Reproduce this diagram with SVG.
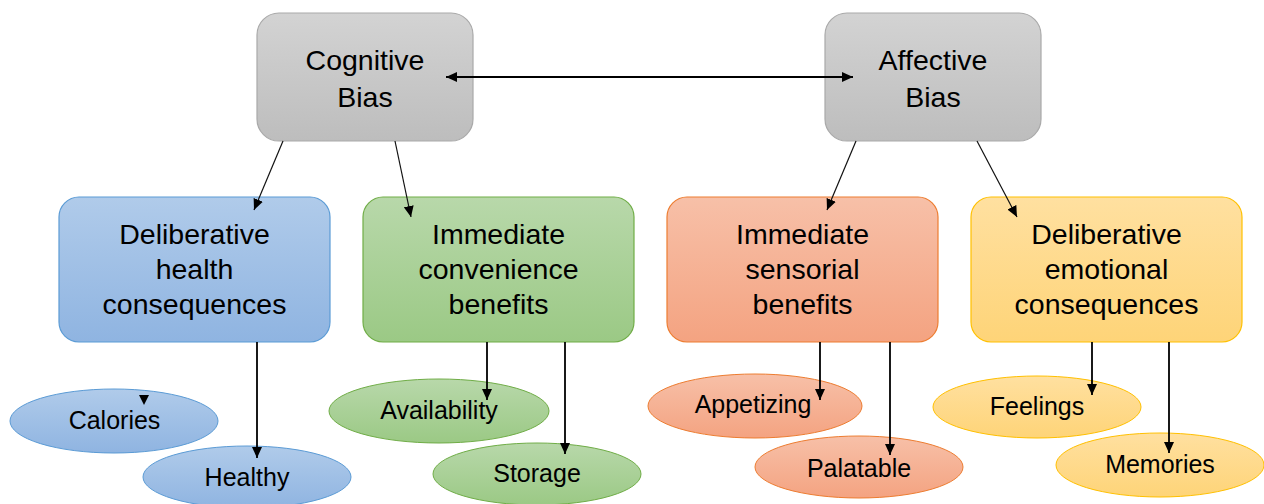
<svg xmlns="http://www.w3.org/2000/svg" width="1264" height="504" viewBox="0 0 1264 504">
<style>
text{font-family:"Liberation Sans",Arial,sans-serif;fill:#000;text-anchor:middle}
.big{font-size:28.5px}
.sm{font-size:25px}
.c{stroke:#000;fill:none;stroke-width:1.8}
.d{stroke:#111;fill:none;stroke-width:1.2}
</style>
<defs>
<linearGradient id="gGray" x1="0" y1="0" x2="0" y2="1"><stop offset="0" stop-color="#d3d3d3"/><stop offset="1" stop-color="#bdbdbd"/></linearGradient>
<linearGradient id="gBlue" x1="0" y1="0" x2="0" y2="1"><stop offset="0" stop-color="#b0cbea"/><stop offset="1" stop-color="#8fb4e1"/></linearGradient>
<linearGradient id="gGreen" x1="0" y1="0" x2="0" y2="1"><stop offset="0" stop-color="#b8d8aa"/><stop offset="1" stop-color="#9bc985"/></linearGradient>
<linearGradient id="gOrange" x1="0" y1="0" x2="0" y2="1"><stop offset="0" stop-color="#f7c0a8"/><stop offset="1" stop-color="#f4a381"/></linearGradient>
<linearGradient id="gYellow" x1="0" y1="0" x2="0" y2="1"><stop offset="0" stop-color="#ffe0a0"/><stop offset="1" stop-color="#fed478"/></linearGradient>
<marker id="ah" markerUnits="userSpaceOnUse" markerWidth="12" markerHeight="10" refX="11" refY="5" orient="auto-start-reverse">
<path d="M0,0 L11,5 L0,10 Z" fill="#000"/>
</marker>
</defs>

<g id="cognitive">
<rect x="257" y="13" width="216" height="128" rx="22" fill="url(#gGray)" stroke="#a9a9a9" stroke-width="1.2"/>
<text class="big" x="365" y="70">Cognitive</text>
<text class="big" x="365" y="107">Bias</text>
</g>
<g id="affective">
<rect x="825" y="13" width="216" height="128" rx="22" fill="url(#gGray)" stroke="#a9a9a9" stroke-width="1.2"/>
<text class="big" x="933" y="70">Affective</text>
<text class="big" x="933" y="107">Bias</text>
</g>

<g id="health">
<rect x="59" y="197" width="271" height="145" rx="20" fill="url(#gBlue)" stroke="#5b9bd5" stroke-width="1.2"/>
<text class="big" x="194.5" y="244">Deliberative</text>
<text class="big" x="194.5" y="279">health</text>
<text class="big" x="194.5" y="314">consequences</text>
</g>
<g id="convenience">
<rect x="363" y="197" width="271" height="145" rx="20" fill="url(#gGreen)" stroke="#70ad47" stroke-width="1.2"/>
<text class="big" x="498.5" y="244">Immediate</text>
<text class="big" x="498.5" y="279">convenience</text>
<text class="big" x="498.5" y="314">benefits</text>
</g>
<g id="sensorial">
<rect x="667" y="197" width="271" height="145" rx="20" fill="url(#gOrange)" stroke="#ed7d31" stroke-width="1.2"/>
<text class="big" x="802.5" y="244">Immediate</text>
<text class="big" x="802.5" y="279">sensorial</text>
<text class="big" x="802.5" y="314">benefits</text>
</g>
<g id="emotional">
<rect x="971" y="197" width="271" height="145" rx="20" fill="url(#gYellow)" stroke="#ffc000" stroke-width="1.2"/>
<text class="big" x="1106.5" y="244">Deliberative</text>
<text class="big" x="1106.5" y="279">emotional</text>
<text class="big" x="1106.5" y="314">consequences</text>
</g>

<g id="calories">
<ellipse cx="114" cy="421" rx="104" ry="32" fill="url(#gBlue)" stroke="#5b9bd5" stroke-width="1"/>
<text class="sm" x="114.5" y="429">Calories</text>
<path d="M139,395 L149,395 L144,405 Z" fill="#000"/>
</g>
<g id="healthy">
<ellipse cx="247" cy="477" rx="104" ry="31" fill="url(#gBlue)" stroke="#5b9bd5" stroke-width="1"/>
<text class="sm" x="247" y="486">Healthy</text>
</g>
<g id="availability">
<ellipse cx="439" cy="411" rx="110" ry="32" fill="url(#gGreen)" stroke="#70ad47" stroke-width="1"/>
<text class="sm" x="439" y="419">Availability</text>
</g>
<g id="storage">
<ellipse cx="537" cy="474" rx="104" ry="31" fill="url(#gGreen)" stroke="#70ad47" stroke-width="1"/>
<text class="sm" x="537" y="482">Storage</text>
</g>
<g id="appetizing">
<ellipse cx="755" cy="406" rx="107" ry="32" fill="url(#gOrange)" stroke="#ed7d31" stroke-width="1"/>
<text class="sm" x="753" y="413">Appetizing</text>
</g>
<g id="palatable">
<ellipse cx="859" cy="467" rx="104" ry="31" fill="url(#gOrange)" stroke="#ed7d31" stroke-width="1"/>
<text class="sm" x="859" y="477">Palatable</text>
</g>
<g id="feelings">
<ellipse cx="1037" cy="407" rx="104" ry="31" fill="url(#gYellow)" stroke="#ffc000" stroke-width="1"/>
<text class="sm" x="1037" y="415">Feelings</text>
</g>
<g id="memories">
<ellipse cx="1160" cy="465" rx="104" ry="32" fill="url(#gYellow)" stroke="#ffc000" stroke-width="1"/>
<text class="sm" x="1160" y="473">Memories</text>
</g>

<g id="connectors">
<line class="c" x1="446" y1="77" x2="853" y2="77" marker-start="url(#ah)" marker-end="url(#ah)"/>
<line class="d" x1="283" y1="141" x2="254" y2="210" marker-end="url(#ah)"/>
<line class="d" x1="395" y1="141" x2="411" y2="217" marker-end="url(#ah)"/>
<line class="d" x1="856" y1="141" x2="827" y2="210" marker-end="url(#ah)"/>
<line class="d" x1="977" y1="141" x2="1017" y2="217" marker-end="url(#ah)"/>
<line class="c" x1="257" y1="342" x2="257" y2="458" marker-end="url(#ah)"/>
<line class="c" x1="487" y1="342" x2="487" y2="400" marker-end="url(#ah)"/>
<line class="c" x1="565" y1="342" x2="565" y2="454" marker-end="url(#ah)"/>
<line class="c" x1="820" y1="342" x2="820" y2="400" marker-end="url(#ah)"/>
<line class="c" x1="890" y1="342" x2="890" y2="455" marker-end="url(#ah)"/>
<line class="c" x1="1092" y1="342" x2="1092" y2="395" marker-end="url(#ah)"/>
<line class="c" x1="1169" y1="342" x2="1169" y2="453" marker-end="url(#ah)"/>
</g>
</svg>
